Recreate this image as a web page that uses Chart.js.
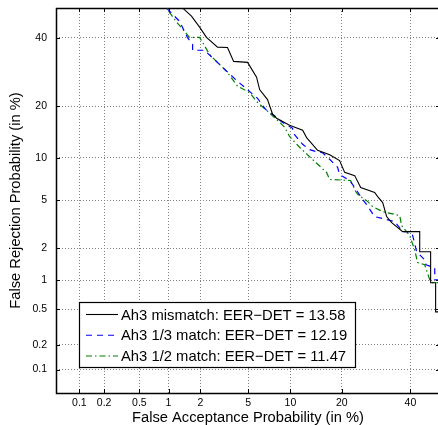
<!DOCTYPE html>
<html>
<head>
<meta charset="utf-8">
<script src="https://cdn.jsdelivr.net/npm/chart.js@4.4.0/dist/chart.umd.min.js"></script>
<style>
html, body { margin: 0; padding: 0; background: #fff; overflow: hidden; }
#wrap { width: 442px; height: 425px; }
</style>
</head>
<body>
<div id="wrap"><canvas id="det" width="442" height="425"></canvas></div>
<script>
// DET curves, all values in %
const tickValues = [0.1, 0.2, 0.5, 1, 2, 5, 10, 20, 40]
const axisRange = [0.05, 50]

const mismatchFA = [1.2, 1.37, 1.66, 1.97, 2.27, 2.83, 3.43, 3.85, 4.96, 5.80, 6.11, 6.97, 7.57, 8.07, 9.87, 11.96, 12.65, 14.71, 17.22, 19.48, 20.70, 23.24, 24.84, 28.77, 29.67, 31.17, 32.38, 33.95, 37.45, 43.10, 43.10, 46.8, 46.8, 48.5, 48.5, 55]
const mismatchFR = [53, 50, 47.2, 43.5, 40.1, 36.9, 36.8, 32.4, 32.1, 27.7, 24.3, 21.7, 18.2, 17.3, 15.8, 14.8, 13.4, 11.2, 10.5, 9.6, 8.0, 7.6, 6.25, 5.74, 5.35, 4.82, 3.73, 3.33, 2.80, 2.80, 1.86, 1.86, 0.944, 0.944, 0.47, 0.47]

const thirdFA = [0.85, 0.954, 1.28, 1.52, 1.70, 1.70, 2.18, 3.06, 4.06, 5.13, 5.90, 6.75, 7.57, 8.87, 10.33, 10.33, 11.96, 13.20, 14.33, 15.73, 17.22, 19.02, 19.48, 21.95, 23.24, 25.37, 26.48, 28.77, 34.88, 37.45, 40.41, 42.08, 44.78, 45.2, 48.2, 48.2, 55]
const thirdFR = [53, 50, 45.5, 40.1, 37.8, 35.9, 35.9, 30.9, 26.8, 23.8, 22.0, 19.3, 18.2, 16.4, 15.2, 14.4, 12.2, 11.3, 11.0, 10.8, 9.8, 8.65, 7.74, 7.02, 6.25, 5.08, 4.65, 3.73, 3.40, 2.80, 2.80, 1.86, 1.57, 1.41, 1.32, 1.01, 1.01]

const halfFA = [0.9, 0.977, 1.02, 1.20, 1.43, 1.59, 1.97, 2.41, 3.37, 4.14, 5.13, 5.80, 6.86, 8.07, 9.16, 9.87, 11.44, 14.13, 16.56, 17.22, 22.19, 23.5, 24.1, 26.8, 28.2, 31.17, 36.5, 37.1, 39.75, 41.4, 42.4, 44.78, 46.5, 47.5, 55]
const halfFR = [53, 50, 48.6, 45.2, 42.1, 40.1, 40.1, 34.6, 29.4, 25.2, 23.5, 21.2, 19.1, 17.05, 15.4, 13.6, 11.7, 9.49, 7.99, 7.14, 7.02, 5.84, 5.54, 4.90, 4.48, 4.09, 3.80, 3.15, 2.59, 1.94, 1.48, 1.41, 1.01, 0.944, 0.944]

const seriesLabels = [
    'Ah3 mismatch: EER\u2212DET = 13.58',
    'Ah3 1/3 match: EER\u2212DET = 12.19',
    'Ah3 1/2 match: EER\u2212DET = 11.47',
]

// inverse normal cdf (Acklam), DET axes are on the normal deviate scale
function probit(p) {
    const a = [-3.969683028665376e+01, 2.209460984245205e+02, -2.759285104469687e+02, 1.383577518672690e+02, -3.066479806614716e+01, 2.506628277459239e+00]
    const b = [-5.447609879822406e+01, 1.615858368580409e+02, -1.556989798598866e+02, 6.680131188771972e+01, -1.328068155288572e+01]
    const c = [-7.784894002430293e-03, -3.223964580411365e-01, -2.400758277161838e+00, -2.549732539343734e+00, 4.374664141464968e+00, 2.938163982698783e+00]
    const d = [7.784695709041462e-03, 3.224671290700398e-01, 2.445134137142996e+00, 3.754408661907416e+00]
    const pl = 0.02425
    if (p < pl) {
        const q = Math.sqrt(-2 * Math.log(p))
        return (((((c[0]*q+c[1])*q+c[2])*q+c[3])*q+c[4])*q+c[5]) / ((((d[0]*q+d[1])*q+d[2])*q+d[3])*q+1)
    }
    if (p > 1 - pl) {
        const q = Math.sqrt(-2 * Math.log(1 - p))
        return -(((((c[0]*q+c[1])*q+c[2])*q+c[3])*q+c[4])*q+c[5]) / ((((d[0]*q+d[1])*q+d[2])*q+d[3])*q+1)
    }
    const q = p - 0.5, r = q * q
    return (((((a[0]*r+a[1])*r+a[2])*r+a[3])*r+a[4])*r+a[5])*q / (((((b[0]*r+b[1])*r+b[2])*r+b[3])*r+b[4])*r+1)
}
const dev = v => probit(v / 100)
const toPoints = (fa, fr) => fa.map((v, i) => ({ x: dev(v), y: dev(fr[i]) }))

Chart.defaults.font.family = '"Liberation Sans", Arial, Helvetica, sans-serif'
Chart.defaults.color = '#000'

// frame with inward tick marks (matlab style)
const frame = {
    id: 'frame',
    beforeDatasetsDraw(chart) {
        const { ctx, chartArea: ca, scales } = chart
        ctx.save()
        ctx.strokeStyle = '#000'
        ctx.lineWidth = 1
        ctx.beginPath()
        scales.x.ticks.forEach(t => {
            const px = Math.round(scales.x.getPixelForValue(t.value)) + 0.5
            ctx.moveTo(px, ca.top); ctx.lineTo(px, ca.top + 4)
            ctx.moveTo(px, ca.bottom); ctx.lineTo(px, ca.bottom - 4)
        })
        scales.y.ticks.forEach(t => {
            const py = Math.round(scales.y.getPixelForValue(t.value)) + 0.5
            ctx.moveTo(ca.left, py); ctx.lineTo(ca.left + 4, py)
            ctx.moveTo(ca.right, py); ctx.lineTo(ca.right - 4, py)
        })
        ctx.stroke()
        ctx.lineWidth = 1.5
        ctx.strokeRect(Math.round(ca.left) + 0.5, Math.round(ca.top) + 0.5, Math.round(ca.width), Math.round(ca.height))
        ctx.restore()
    },
}

// boxed legend in the lower left of the plot
const boxLegend = {
    id: 'boxLegend',
    afterDatasetsDraw(chart) {
        const { ctx, chartArea: ca } = chart
        const bx = ca.left + 23, by = ca.bottom - 91, bw = 276, bh = 65
        ctx.save()
        ctx.fillStyle = '#fff'
        ctx.fillRect(bx, by, bw, bh)
        ctx.strokeStyle = '#000'
        ctx.lineWidth = 1.2
        ctx.strokeRect(bx + 0.5, by + 0.5, bw, bh)
        ctx.font = '14.8px "Liberation Sans", Arial, sans-serif'
        ctx.textBaseline = 'middle'
        chart.data.datasets.forEach((ds, i) => {
            const ry = by + 12.5 + i * 20.75
            ctx.strokeStyle = ds.borderColor
            ctx.lineWidth = ds.borderWidth
            ctx.setLineDash(ds.borderDash || [])
            ctx.beginPath()
            ctx.moveTo(bx + 7, ry); ctx.lineTo(bx + 39, ry)
            ctx.stroke()
            ctx.setLineDash([])
            ctx.fillStyle = '#000'
            ctx.fillText(ds.label, bx + 42, ry + 1)
        })
        ctx.restore()
    },
}

const detAxis = (title, pos) => ({
    type: 'linear',
    position: pos,
    min: dev(axisRange[0]),
    max: dev(axisRange[1]),
    afterBuildTicks: scale => { scale.ticks = tickValues.map(v => ({ value: dev(v) })) },
    ticks: {
        callback: (value, index) => String(tickValues[index]),
        font: { size: 10.5 },
        padding: pos === 'bottom' ? 4 : 9,
        autoSkip: false,
        maxRotation: 0,
    },
    grid: { color: '#808080', lineWidth: 1, drawTicks: false },
    border: { display: false, dash: [1, 2] },
    title: {
        display: true,
        text: title,
        font: { size: 14.7, lineHeight: 1 },
        padding: pos === 'bottom' ? { top: 0, bottom: 0 } : { top: 9, bottom: 0 },
    },
    afterFit: scale => {
        if (pos === 'bottom') scale.height = 32
        else scale.width = 56
        // no extra room for half tick labels at the ends
        scale.paddingTop = scale.paddingBottom = scale.paddingLeft = scale.paddingRight = 0
    },
})

const detConfig = {
    type: 'scatter',
    data: {
        datasets: [
            {
                label: seriesLabels[0],
                data: toPoints(mismatchFA, mismatchFR),
                borderColor: '#000000',
                borderWidth: 1.1,
                showLine: true,
                pointRadius: 0,
            },
            {
                label: seriesLabels[1],
                data: toPoints(thirdFA, thirdFR),
                borderColor: '#0000ff',
                borderWidth: 1.2,
                borderDash: [6, 5],
                showLine: true,
                pointRadius: 0,
            },
            {
                label: seriesLabels[2],
                data: toPoints(halfFA, halfFR),
                borderColor: '#008000',
                borderWidth: 1.2,
                borderDash: [6, 3, 1.5, 3],
                showLine: true,
                pointRadius: 0,
            },
        ],
    },
    options: {
        responsive: false,
        animation: false,
        layout: { padding: { top: 8, right: 2, left: 0, bottom: 0 } },
        plugins: {
            legend: { display: false },
            tooltip: { enabled: false },
        },
        scales: {
            x: detAxis('False Acceptance Probability (in %)', 'bottom'),
            y: detAxis('False Rejection Probability (in %)', 'left'),
        },
    },
    plugins: [frame, boxLegend],
}

const detCtx = document.getElementById('det')
window.detChart = new Chart(detCtx, detConfig)
</script>
</body>
</html>
